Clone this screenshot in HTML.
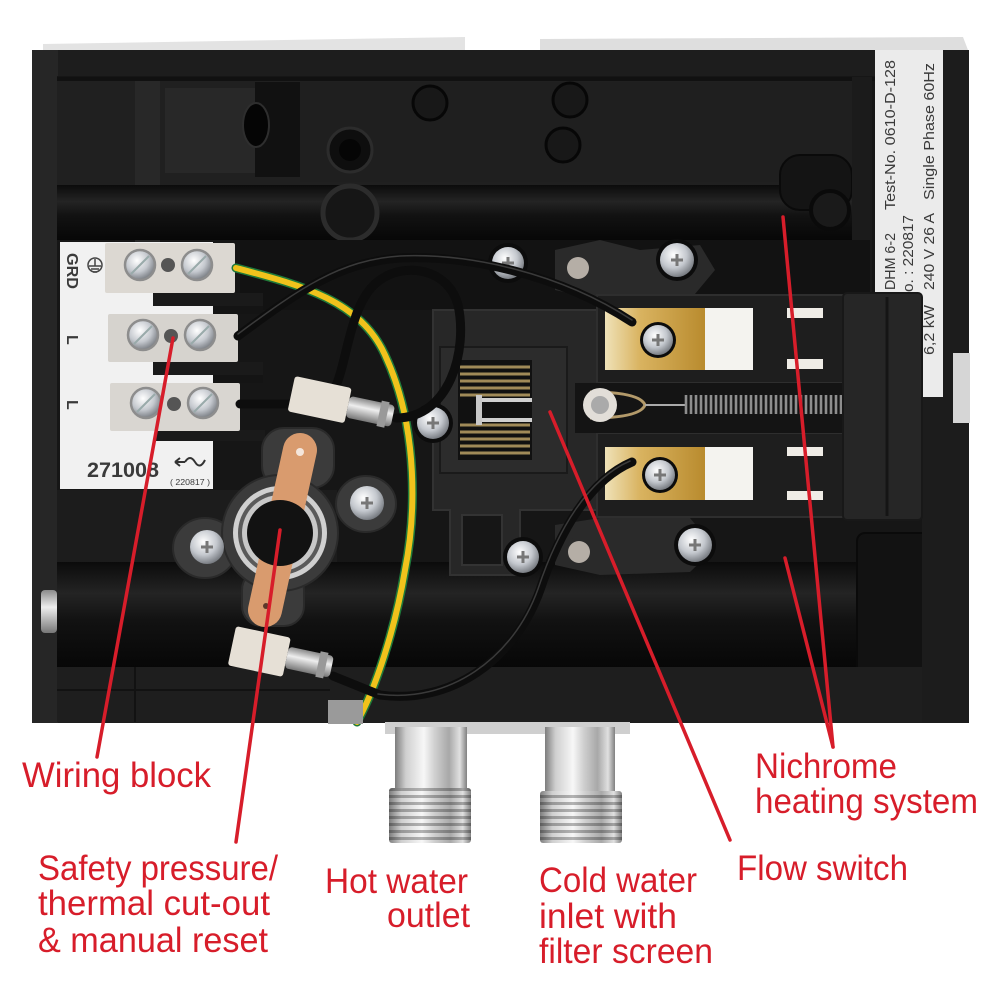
<!DOCTYPE html>
<html><head><meta charset="utf-8"><style>html,body{margin:0;padding:0;background:#fff}svg{display:block}</style></head>
<body>
<svg xmlns="http://www.w3.org/2000/svg" width="1000" height="1000" viewBox="0 0 1000 1000">
<defs>
<radialGradient id="scr" cx="40%" cy="35%" r="70%"><stop offset="0" stop-color="#ffffff"/><stop offset="0.55" stop-color="#c4c8ce"/><stop offset="1" stop-color="#6e7278"/></radialGradient>
<linearGradient id="pipe" x1="0" y1="0" x2="1" y2="0"><stop offset="0" stop-color="#7d7d7d"/><stop offset="0.15" stop-color="#cfcfcf"/><stop offset="0.4" stop-color="#f7f7f7"/><stop offset="0.55" stop-color="#d0d0d0"/><stop offset="0.75" stop-color="#a8a8a8"/><stop offset="0.9" stop-color="#e0e0e0"/><stop offset="1" stop-color="#808080"/></linearGradient>
<linearGradient id="gold" x1="0" y1="0" x2="1" y2="0"><stop offset="0" stop-color="#efe2b8"/><stop offset="0.35" stop-color="#d9b360"/><stop offset="1" stop-color="#b98b2e"/></linearGradient>
<linearGradient id="tube" x1="0" y1="0" x2="0" y2="1"><stop offset="0" stop-color="#0b0b0b"/><stop offset="0.3" stop-color="#242424"/><stop offset="0.55" stop-color="#121212"/><stop offset="1" stop-color="#070707"/></linearGradient>
<linearGradient id="lug" x1="0" y1="0" x2="0" y2="1"><stop offset="0" stop-color="#8a8a8a"/><stop offset="0.4" stop-color="#eeeeee"/><stop offset="1" stop-color="#777"/></linearGradient>
<pattern id="thread" width="10" height="7" patternUnits="userSpaceOnUse"><rect y="4" width="10" height="3" fill="#000" opacity="0.28"/></pattern>
</defs>

<!-- top light strips -->
<polygon points="43,52 43,44 465,37 465,52" fill="#e3e3e3"/>
<polygon points="540,50 540,39 963,37 968,50" fill="#dedede"/>

<!-- main body -->
<rect x="32" y="50" width="937" height="673" rx="3" fill="#1d1d1d"/>
<rect x="32" y="50" width="26" height="673" fill="#262626"/>
<rect x="57" y="76" width="866" height="596" fill="#161616"/>
<!-- top chamber -->
<rect x="57" y="77" width="795" height="112" fill="#202020"/>
<rect x="135" y="80" width="25" height="165" fill="#282828"/>
<rect x="165" y="88" width="90" height="85" fill="#282828"/>
<rect x="255" y="82" width="45" height="95" fill="#111"/>
<ellipse cx="256" cy="125" rx="13" ry="22" fill="#050505" stroke="#2e2e2e" stroke-width="2"/>
<rect x="300" y="82" width="552" height="100" fill="#1f1f1f"/>
<circle cx="350" cy="150" r="22" fill="#0e0e0e" stroke="#2c2c2c" stroke-width="3"/>
<circle cx="350" cy="150" r="11" fill="#050505"/>
<circle cx="430" cy="103" r="17" fill="#181818" stroke="#070707" stroke-width="3"/>
<circle cx="570" cy="100" r="17" fill="#181818" stroke="#070707" stroke-width="3"/>
<circle cx="563" cy="145" r="17" fill="#181818" stroke="#070707" stroke-width="3"/>
<rect x="57" y="77" width="866" height="4" fill="#111"/>
<!-- top tube -->
<rect x="57" y="185" width="795" height="55" fill="url(#tube)"/>
<rect x="780" y="155" width="72" height="55" rx="20" fill="#141414" stroke="#0a0a0a" stroke-width="2"/>
<circle cx="830" cy="210" r="19" fill="#1a1a1a" stroke="#0a0a0a" stroke-width="4"/>
<circle cx="350" cy="213" r="27" fill="#161616" stroke="#2c2c2c" stroke-width="5"/>
<rect x="852" y="77" width="20" height="220" fill="#1b1b1b"/>

<!-- middle region shading -->
<rect x="240" y="240" width="630" height="70" fill="#121212"/>
<rect x="57" y="490" width="280" height="80" fill="#1c1c1c"/>

<!-- bottom tube -->
<rect x="57" y="562" width="900" height="105" fill="url(#tube)"/>
<rect x="857" y="533" width="103" height="174" rx="8" fill="#121212" stroke="#0a0a0a" stroke-width="2"/>
<rect x="57" y="667" width="866" height="55" fill="#1e1e1e"/>
<line x1="57" y1="690" x2="330" y2="690" stroke="#121212" stroke-width="2"/>
<line x1="135" y1="667" x2="135" y2="722" stroke="#121212" stroke-width="2"/>
<rect x="41" y="590" width="16" height="43" rx="4" fill="url(#lug)"/>
<!-- right wall -->
<rect x="922" y="50" width="47" height="673" fill="#1c1c1c"/>
<rect x="953" y="353" width="17" height="70" fill="#d6d6d6"/>

<!-- right label strip -->
<rect x="875" y="50" width="68" height="347" fill="#ebebeb"/>
<g font-family="Liberation Sans, sans-serif" font-size="15" fill="#3a3a3a">
<text transform="translate(895,290) rotate(-90)" textLength="57" lengthAdjust="spacingAndGlyphs">DHM 6-2</text>
<text transform="translate(895,210) rotate(-90)" textLength="150" lengthAdjust="spacingAndGlyphs">Test-No. 0610-D-128</text>
<text transform="translate(913,292) rotate(-90)" textLength="77" lengthAdjust="spacingAndGlyphs">o. : 220817</text>
<text transform="translate(934,355) rotate(-90)" textLength="50" lengthAdjust="spacingAndGlyphs">6,2 kW</text>
<text transform="translate(934,290) rotate(-90)" textLength="77" lengthAdjust="spacingAndGlyphs">240 V  26 A</text>
<text transform="translate(934,200) rotate(-90)" textLength="137" lengthAdjust="spacingAndGlyphs">Single Phase 60Hz</text>
</g>

<!-- left white label -->
<rect x="60" y="242" width="153" height="247" fill="#f1f1f1"/>
<g font-family="Liberation Sans, sans-serif" font-weight="bold" fill="#3a3a3a">
<text transform="translate(67,253) rotate(90)" font-size="16" textLength="36" lengthAdjust="spacingAndGlyphs">GRD</text>
<text transform="translate(67,335) rotate(90)" font-size="16">L</text>
<text transform="translate(67,400) rotate(90)" font-size="16">L</text>
<text x="87" y="477" font-size="21" textLength="72" lengthAdjust="spacingAndGlyphs">271008</text>
<text x="170" y="485" font-size="8" font-weight="normal" textLength="40" lengthAdjust="spacingAndGlyphs">( 220817 )</text>
</g>
<path d="M175,462 h10 m-10,0 l5,-4 m-5,4 l5,4 M185,462 q5,-8 10,0 q5,8 10,-2" stroke="#333" stroke-width="2" fill="none"/>
<circle cx="95" cy="265" r="7" fill="none" stroke="#444" stroke-width="1.5"/>
<path d="M95,259 v7 M89,266 h12 M91,269 h8 M93,272 h4" stroke="#444" stroke-width="1.5"/>

<!-- prongs between blocks -->
<rect x="153" y="293" width="110" height="13" fill="#1a1a1a"/>
<rect x="153" y="362" width="110" height="13" fill="#1a1a1a"/>
<rect x="155" y="430" width="110" height="11" fill="#1a1a1a"/>
<rect x="213" y="306" width="50" height="8" fill="#141414"/>
<rect x="213" y="375" width="50" height="8" fill="#141414"/>

<!-- terminal blocks -->
<g>
<rect x="105" y="243" width="130" height="50" rx="2" fill="#dcd8d2"/>
<rect x="108" y="314" width="130" height="48" rx="2" fill="#d6d3ce"/>
<rect x="110" y="383" width="130" height="48" rx="2" fill="#d9d6d1"/>
<circle cx="168" cy="265" r="7" fill="#555"/>
<circle cx="171" cy="336" r="7" fill="#555"/>
<circle cx="174" cy="404" r="7" fill="#555"/>
</g>
<g stroke="#8d8d8d" stroke-width="2.5">
<circle cx="140" cy="265" r="15" fill="url(#scr)"/>
<circle cx="197" cy="265" r="15" fill="url(#scr)"/>
<circle cx="143" cy="335" r="15" fill="url(#scr)"/>
<circle cx="200" cy="335" r="15" fill="url(#scr)"/>
<circle cx="146" cy="403" r="15" fill="url(#scr)"/>
<circle cx="203" cy="403" r="15" fill="url(#scr)"/>
</g>
<g stroke="#9aa" stroke-width="2">
<path d="M131,274 L149,256 M188,274 L206,256 M134,344 L152,326 M191,344 L209,326 M137,412 L155,394 M194,412 L212,394"/>
</g>

<!-- flow switch housing -->
<path d="M433,310 H600 V510 H520 V575 H450 V510 H433 Z" fill="#272727" stroke="#323232" stroke-width="2"/>
<rect x="440" y="347" width="127" height="126" fill="#2c2c2c" stroke="#1a1a1a" stroke-width="2"/>
<rect x="458" y="360" width="74" height="100" fill="#111"/>
<g stroke="#a08a58" stroke-width="3" fill="none">
<path d="M460,367 H530 M460,374 H530 M460,381 H530 M460,388 H530 M460,395 H530"/>
<path d="M460,425 H530 M460,432 H530 M460,439 H530 M460,446 H530 M460,453 H530"/>
</g>
<rect x="476" y="395" width="6" height="30" fill="#c8c8c8"/>
<rect x="482" y="398" width="50" height="4" fill="#d0d0d0"/>
<rect x="482" y="418" width="50" height="4" fill="#d0d0d0"/>
<rect x="462" y="515" width="40" height="50" fill="#161616" stroke="#333" stroke-width="2"/>

<!-- levers around upper and lower screws -->
<path d="M555,250 L600,240 L640,250 L700,245 L715,270 L690,300 L600,300 L555,290 Z" fill="#2a2a2a"/>
<path d="M555,525 L600,518 L690,518 L715,548 L690,572 L600,575 L555,565 Z" fill="#2a2a2a"/>

<!-- heating brackets -->
<rect x="597" y="295" width="246" height="88" fill="#1e1e1e" stroke="#2e2e2e" stroke-width="2"/>
<rect x="605" y="308" width="100" height="62" fill="url(#gold)"/>
<rect x="705" y="308" width="48" height="62" fill="#f4f3ef"/>
<rect x="787" y="308" width="36" height="10" fill="#efece6"/>
<rect x="787" y="359" width="36" height="10" fill="#efece6"/>
<rect x="597" y="433" width="246" height="84" fill="#1e1e1e" stroke="#2e2e2e" stroke-width="2"/>
<rect x="605" y="447" width="100" height="53" fill="url(#gold)"/>
<rect x="705" y="447" width="48" height="53" fill="#f4f3ef"/>
<rect x="787" y="447" width="36" height="9" fill="#efece6"/>
<rect x="787" y="491" width="36" height="9" fill="#efece6"/>
<!-- spring channel -->
<rect x="575" y="383" width="270" height="50" fill="#141414"/>
<path d="M590,392 Q640,392 645,405 Q640,418 590,418" stroke="#b39a6a" stroke-width="3" fill="none"/>
<line x1="645" y1="405" x2="685" y2="405" stroke="#aaa" stroke-width="2"/>
<g stroke="#8e8e8e" stroke-width="2.6">
<path d="M686,395v19M691,395v19M696,395v19M701,395v19M706,395v19M711,395v19M716,395v19M721,395v19M726,395v19M731,395v19M736,395v19M741,395v19M746,395v19M751,395v19M756,395v19M761,395v19M766,395v19M771,395v19M776,395v19M781,395v19M786,395v19M791,395v19M796,395v19M801,395v19M806,395v19M811,395v19M816,395v19M821,395v19M826,395v19M831,395v19M836,395v19M841,395v19M846,395v19"/>
</g>
<path d="M848,405 Q860,412 875,405" stroke="#aaa" stroke-width="2" fill="none"/>
<circle cx="600" cy="405" r="17" fill="#e2ded8"/>
<circle cx="600" cy="405" r="9" fill="#aaa"/>
<!-- right block -->
<rect x="843" y="293" width="79" height="227" rx="4" fill="#262626" stroke="#181818" stroke-width="2"/>
<line x1="887" y1="297" x2="887" y2="516" stroke="#151515" stroke-width="3"/>

<!-- screws -->
<g>
<circle cx="677" cy="260" r="21" fill="#0c0c0c"/><circle cx="677" cy="260" r="17" fill="url(#scr)"/>
<circle cx="695" cy="545" r="21" fill="#0c0c0c"/><circle cx="695" cy="545" r="17" fill="url(#scr)"/>
<circle cx="658" cy="340" r="18" fill="#0c0c0c"/><circle cx="658" cy="340" r="15" fill="url(#scr)"/>
<circle cx="660" cy="475" r="18" fill="#0c0c0c"/><circle cx="660" cy="475" r="15" fill="url(#scr)"/>
<circle cx="508" cy="263" r="20" fill="#0c0c0c"/><circle cx="508" cy="263" r="16" fill="url(#scr)"/>
<circle cx="433" cy="423" r="20" fill="#0c0c0c"/><circle cx="433" cy="423" r="16" fill="url(#scr)"/>
<circle cx="523" cy="557" r="20" fill="#0c0c0c"/><circle cx="523" cy="557" r="16" fill="url(#scr)"/>
<circle cx="578" cy="268" r="15" fill="#2a2a2a"/><circle cx="578" cy="268" r="11" fill="#b5aea6"/>
<circle cx="579" cy="552" r="15" fill="#2a2a2a"/><circle cx="579" cy="552" r="11" fill="#b5aea6"/>
</g>
<g stroke="#777" stroke-width="3">
<path d="M671,260h12M677,254v12M689,545h12M695,539v12M652,340h12M658,334v12M654,475h12M660,469v12M502,263h12M508,257v12M427,423h12M433,417v12M517,557h12M523,551v12"/>
</g>

<!-- thermostat (safety cut-out) -->
<g fill="#3b3b3b" stroke="#2a2a2a" stroke-width="2">
<ellipse cx="205" cy="548" rx="32" ry="30"/>
<ellipse cx="366" cy="504" rx="30" ry="28"/>
<rect x="262" y="428" width="72" height="60" rx="22"/>
<rect x="242" y="570" width="62" height="56" rx="20"/>
<circle cx="280" cy="533" r="58"/>
</g>
<circle cx="280" cy="533" r="47" fill="#d0d0d0"/>
<circle cx="280" cy="533" r="42" fill="#5a5a5a"/>
<circle cx="280" cy="533" r="38" fill="#c8c8c8"/>
<line x1="300" y1="450" x2="265" y2="610" stroke="#d99b6e" stroke-width="34" stroke-linecap="round"/>
<circle cx="280" cy="533" r="33" fill="#121212"/>
<circle cx="300" cy="452" r="4" fill="#f4e6dc"/>
<circle cx="266" cy="606" r="3" fill="#5a3a2a"/>
<circle cx="207" cy="547" r="17" fill="url(#scr)"/>
<circle cx="367" cy="503" r="17" fill="url(#scr)"/>
<path d="M201,547h12M207,541v12M361,503h12M367,497v12" stroke="#777" stroke-width="3"/>

<!-- wires -->
<g fill="none" stroke-linecap="round">
<path d="M236,268 C300,285 360,300 385,355 C420,430 415,520 405,570 C395,630 375,690 357,722" stroke="#1f7a3a" stroke-width="9"/>
<path d="M236,268 C300,285 360,300 385,355 C420,430 415,520 405,570 C395,630 375,690 357,722" stroke="#f0c21c" stroke-width="6"/>
<path d="M238,336 C300,290 340,262 400,258 C470,255 560,275 632,322" stroke="#0d0d0d" stroke-width="9"/>
<path d="M396,418 C450,418 468,350 458,305 C448,268 405,262 380,280 C350,300 348,360 335,388" stroke="#0d0d0d" stroke-width="9"/>
<path d="M240,404 L292,404" stroke="#0d0d0d" stroke-width="9"/>
<path d="M632,462 C590,480 560,530 540,590 C515,660 450,705 380,695 L333,676" stroke="#0d0d0d" stroke-width="9"/>
<path d="M238,336 C300,290 340,262 400,258 C470,255 560,275 632,322" stroke="#3a3a3a" stroke-width="1.5" transform="translate(0,-2)"/>
<path d="M632,462 C590,480 560,530 540,590 C515,660 450,705 380,695" stroke="#3a3a3a" stroke-width="1.5" transform="translate(-2,-1)"/>
</g>

<!-- connectors -->
<g transform="rotate(12,340,405)">
<rect x="290" y="386" width="58" height="36" rx="3" fill="#e6e0d6"/>
<rect x="348" y="394" width="46" height="22" rx="4" fill="url(#lug)"/>
<rect x="380" y="392" width="8" height="26" fill="#999"/>
</g>
<g transform="rotate(12,280,660)">
<rect x="230" y="636" width="56" height="40" rx="3" fill="#e6e0d6"/>
<rect x="286" y="645" width="46" height="22" rx="4" fill="url(#lug)"/>
<rect x="318" y="643" width="8" height="26" fill="#999"/>
</g>
<rect x="328" y="700" width="35" height="24" fill="#9a9a9a"/>

<!-- strip under body & fittings -->
<rect x="385" y="722" width="245" height="12" fill="#cfcfcf"/>
<rect x="395" y="727" width="72" height="65" fill="url(#pipe)"/>
<rect x="389" y="788" width="82" height="55" rx="3" fill="url(#pipe)"/>
<rect x="389" y="788" width="82" height="55" rx="3" fill="url(#thread)"/>
<rect x="545" y="727" width="70" height="66" fill="url(#pipe)"/>
<rect x="540" y="791" width="82" height="52" rx="3" fill="url(#pipe)"/>
<rect x="540" y="791" width="82" height="52" rx="3" fill="url(#thread)"/>

<!-- red leader lines -->
<g stroke="#d71d2a" stroke-width="3.5" stroke-linecap="round" fill="none">
<line x1="173" y1="338" x2="97" y2="757"/>
<line x1="280" y1="530" x2="236" y2="842"/>
<line x1="550" y1="412" x2="730" y2="840"/>
<line x1="783" y1="217" x2="833" y2="747"/>
<line x1="785" y1="558" x2="833" y2="747"/>
</g>

<!-- labels -->
<g font-family="Liberation Sans, sans-serif" font-size="35" fill="#d71d2a" lengthAdjust="spacingAndGlyphs">
<text x="22" y="787" textLength="189" lengthAdjust="spacingAndGlyphs">Wiring block</text>
<text x="38" y="880" textLength="240" lengthAdjust="spacingAndGlyphs">Safety pressure/</text>
<text x="38" y="915" textLength="232" lengthAdjust="spacingAndGlyphs">thermal cut-out</text>
<text x="38" y="952" textLength="230" lengthAdjust="spacingAndGlyphs">&amp; manual reset</text>
<text x="325" y="893" textLength="143" lengthAdjust="spacingAndGlyphs">Hot water</text>
<text x="387" y="927" textLength="83" lengthAdjust="spacingAndGlyphs">outlet</text>
<text x="539" y="892" textLength="158" lengthAdjust="spacingAndGlyphs">Cold water</text>
<text x="539" y="928" textLength="138" lengthAdjust="spacingAndGlyphs">inlet with</text>
<text x="539" y="963" textLength="174" lengthAdjust="spacingAndGlyphs">filter screen</text>
<text x="737" y="880" textLength="171" lengthAdjust="spacingAndGlyphs">Flow switch</text>
<text x="755" y="778" textLength="142" lengthAdjust="spacingAndGlyphs">Nichrome</text>
<text x="755" y="813" textLength="223" lengthAdjust="spacingAndGlyphs">heating system</text>
</g>
</svg>
</body></html>
